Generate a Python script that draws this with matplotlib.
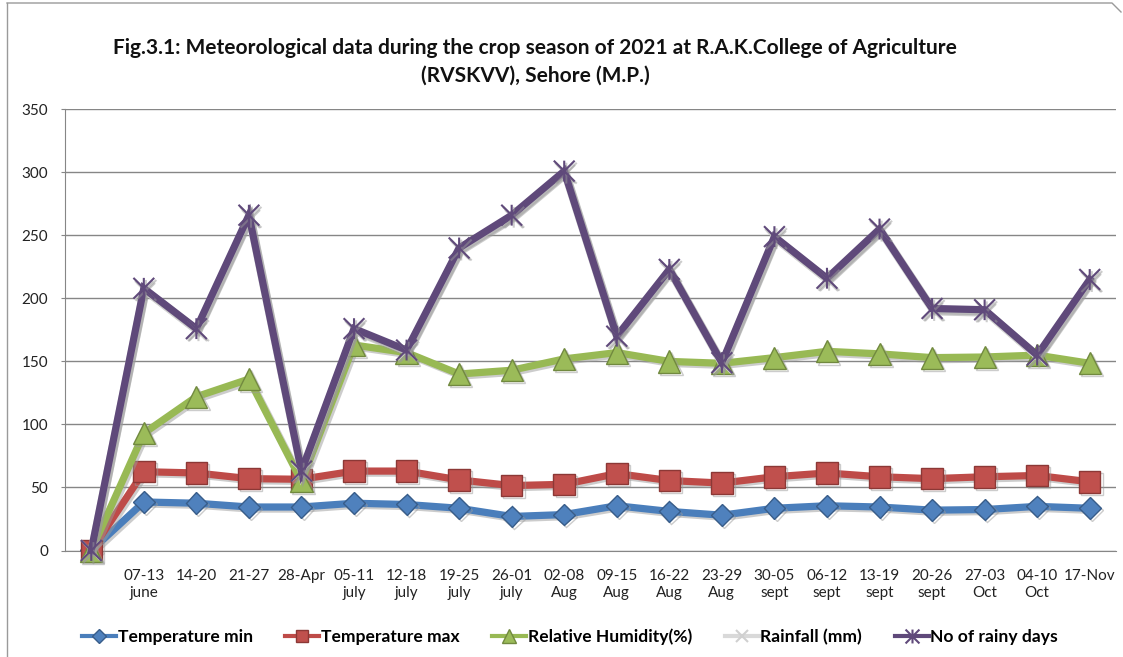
import matplotlib
matplotlib.use("Agg")
import matplotlib.pyplot as plt
import matplotlib.patheffects as pe
from matplotlib.path import Path
from matplotlib.lines import Line2D

categories = ["", "07-13\njune", "14-20", "21-27", "28-Apr", "05-11\njuly", "12-18\njuly",
              "19-25\njuly", "26-01\njuly", "02-08\nAug", "09-15\nAug", "16-22\nAug", "23-29\nAug",
              "30-05\nsept", "06-12\nsept", "13-19\nsept", "20-26\nsept", "27-03\nOct", "04-10\nOct",
              "17-Nov"]
temp_min = [0, 38.5, 37.5, 34.5, 34.5, 37.5, 36.5, 33.5, 27, 28.5, 35.5, 31, 28, 33.5, 35.5,
            34.5, 32, 32.5, 35, 33.5]
temp_max = [0, 62.5, 61.5, 57, 56.5, 63, 63, 56, 51.5, 52.5, 61, 55.5, 53.5, 58.5, 61.5,
            58.5, 57, 58.5, 59.5, 54.5]
rel_humidity = [0, 93, 122, 136, 55, 163, 157, 140, 143, 152, 157, 150, 148.5, 153, 158,
                156, 153, 153.5, 155, 148.5]
rainfall = [0, 207, 175, 265, 62, 175, 158, 239, 265, 300, 169, 222, 148, 248, 215, 254,
            191, 190, 154, 214]
rainy_days = [0, 208, 176, 266, 63, 176, 159, 240, 266, 301, 170, 223, 149, 249, 216, 255,
              192, 191, 155, 215]
y_ticks = [0, 50, 100, 150, 200, 250, 300, 350]
title_text = ("Fig.3.1: Meteorological data during the crop season of 2021 at R.A.K.College of Agriculture\n"
              "(RVSKVV), Sehore (M.P.)")

plt.rcParams['font.family'] = ['Lato', 'DejaVu Sans']

W, H = 1123, 657
fig = plt.figure(figsize=(W / 100, H / 100), dpi=100)
ax = fig.add_axes([65 / W, 1 - 550.5 / H, (1116 - 65) / W, (550.5 - 109.3) / H])

star = Path([(0, -1), (0, 1), (-1, -1), (1, 1), (-1, 1), (1, -1)],
            [Path.MOVETO, Path.LINETO, Path.MOVETO, Path.LINETO, Path.MOVETO, Path.LINETO])

shadow = [pe.SimpleLineShadow(offset=(1.5, -1.5), shadow_color='#9a9a9a', alpha=0.5), pe.Normal()]

x = list(range(len(categories)))
series = [
    ("Temperature min", temp_min, '#4A7EBB', 'D', '#4F81BD', '#385D8A', 11, 7),
    ("Temperature max", temp_max, '#BE4B48', 's', '#C0504D', '#8C3836', 15.5, 9),
    ("Relative Humidity(%)", rel_humidity, '#98B954', '^', '#9BBB59', '#71893F', 16, 10),
    ("Rainfall (mm)", rainfall, '#D9D9D9', 'x', '#D9D9D9', '#D0D0D0', 13, 9),
    ("No of rainy days", rainy_days, '#5F497A', star, '#8064A2', '#604A7B', 15, 10),
]
handles = []
for i, (lab, vals, lc, mk, mfc, mec, ms, lms) in enumerate(series):
    mew = 1.0
    if lab in ("Rainfall (mm)", "No of rainy days"):
        mew = 1.5
    ax.plot(x, vals, color=lc, lw=5.2, marker=mk, markersize=ms, markerfacecolor=mfc,
            markeredgecolor=mec, markeredgewidth=mew, zorder=3 + i,
            path_effects=shadow, solid_joinstyle='miter', clip_on=False)
    h = Line2D([], [], color=lc, lw=3, marker=mk, markersize=lms, markerfacecolor=mfc,
               markeredgecolor=mec, markeredgewidth=mew)
    handles.append((h, lab))

ax.set_xlim(-0.5, len(categories) - 0.5)
ax.set_ylim(0, 350)
ax.set_yticks(y_ticks)
ax.set_yticklabels([str(v) for v in y_ticks], fontsize=11, color='#222222')
ax.set_xticks(x)
ax.set_xticklabels(categories, fontsize=11, color='#222222', linespacing=1.35, va='top')
ax.tick_params(axis='x', length=0, pad=13)
ax.tick_params(axis='y', length=3, color='#868686', pad=9, direction='out')
ax.grid(axis='y', color='#868686', lw=1)
ax.set_axisbelow(True)
for s in ['top', 'right']:
    ax.spines[s].set_visible(False)
ax.spines['left'].set_color('#868686')
ax.spines['bottom'].set_color('#868686')

fig.text(535 / W, 1 - 61.5 / H, title_text, ha='center', va='center', fontsize=15,
         fontweight='bold', linespacing=1.5, color='#111111')

fig.legend([h for h, _ in handles], [l for _, l in handles], loc='center',
           bbox_to_anchor=(570 / W, 1 - 637 / H), ncol=5, frameon=False,
           prop={'weight': 'bold', 'size': 12.6}, handlelength=1.95, handletextpad=0.1,
           columnspacing=1.85)

# chart area border
fig.add_artist(Line2D([7 / W, 7 / W], [0, 1 - 3 / H], color='#9a9a9a', lw=1))
fig.add_artist(Line2D([7 / W, 1112 / W, 1121 / W], [1 - 3 / H, 1 - 3 / H, 1 - 12 / H],
                      color='#9a9a9a', lw=1))

fig.savefig("out.png", dpi=100)
